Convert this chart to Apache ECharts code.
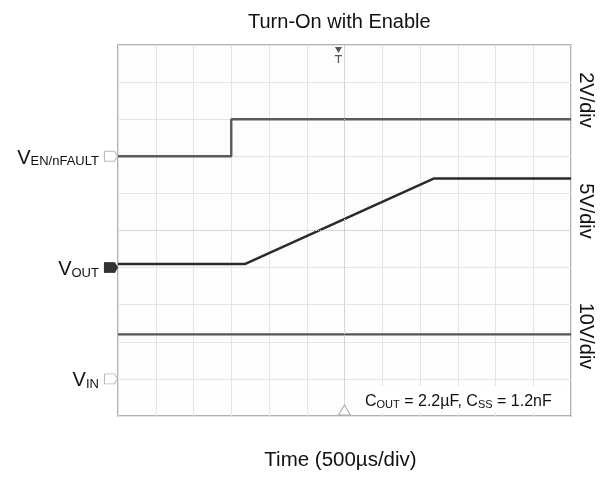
<!DOCTYPE html>
<html>
<head>
<meta charset="utf-8">
<script src="https://cdn.jsdelivr.net/npm/echarts@6/dist/echarts.min.js"></script>
<style>html,body{margin:0;padding:0;background:#fff}#c{width:605px;height:477px}</style>
</head>
<body>
<div id="c"></div>
<script>
// time in µs (500 µs/div), levels in screen divisions (0..10)
const enTime = [0, 1500, 1500, 6000];
const enLevel = [7.0, 7.0, 8.0, 8.0];
const voutTime = [0, 1686, 4180, 6000];
const voutLevel = [4.1, 4.1, 6.4, 6.4];
const vinTime = [0, 6000];
const vinLevel = [2.2, 2.2];
const refLevels = { en: 7.0, vout: 4.0, vin: 1.0 };
const scaleLabels = ['2V/div', '5V/div', '10V/div'];
const triggerTime = 2920;
const centerTime = 3000;

const zip = (xs, ys) => xs.map((x, i) => [x, ys[i]]);
const FONT = 'Liberation Sans, Arial, sans-serif';
const chanSym = 'path://M0,0 L10,0 L13,5 L10,10 L0,10 Z';
const rich = {
  v: { fontSize: 20, lineHeight: 24, verticalAlign: 'bottom', color: '#111', fontFamily: FONT },
  s: { fontSize: 13, lineHeight: 12, verticalAlign: 'bottom', color: '#111', fontFamily: FONT }
};
function chanMark(level, sub, dark) {
  return {
    coord: [0, level], symbol: chanSym, symbolSize: [13, 10], symbolOffset: [-7, 0],
    itemStyle: { color: dark ? '#333' : '#fff', borderColor: dark ? '#333' : '#bbb', borderWidth: 1 },
    label: { show: true, position: 'left', distance: 5, formatter: '{v|V}{s|' + sub + '}', rich: rich }
  };
}
const rotText = (txt, y) => ({
  type: 'text', x: 586, y: y, rotation: -Math.PI / 2,
  style: { text: txt, fill: '#111', font: '20px ' + FONT, align: 'center', verticalAlign: 'middle' }
});

const chart = echarts.init(document.getElementById('c'));
chart.setOption({
  animation: false,
  backgroundColor: '#fff',
  title: { text: 'Turn-On with Enable', left: 243, top: 7,
    textStyle: { fontSize: 20, fontWeight: 'normal', color: '#111', fontFamily: FONT } },
  grid: { left: 118, right: 34, top: 45, bottom: 61, show: true, backgroundColor: '#fdfdfd',
    borderColor: '#999', borderWidth: 1.5 },
  xAxis: {
    type: 'value', min: 0, max: 6000, interval: 500,
    name: 'Time (500µs/div)', nameLocation: 'middle', nameGap: 34,
    nameTextStyle: { fontSize: 20.5, color: '#111', fontFamily: FONT, padding: [0, 8, 0, 0] },
    axisLine: { show: false }, axisTick: { show: false }, axisLabel: { show: false },
    splitLine: { show: true, lineStyle: { color: '#e4e4e4', width: 1 } }
  },
  yAxis: {
    type: 'value', min: 0, max: 10, interval: 1,
    axisLine: { show: false }, axisTick: { show: false }, axisLabel: { show: false },
    splitLine: { show: true, lineStyle: { color: '#e4e4e4', width: 1 } }
  },
  series: [
    {
      type: 'line', data: zip(enTime, enLevel), symbol: 'none',
      lineStyle: { color: '#5a5a5a', width: 2.4 },
      markPoint: { silent: true, data: [chanMark(refLevels.en, 'EN/nFAULT', false)] },
      markLine: {
        silent: true, symbol: 'none', label: { show: false },
        lineStyle: { color: '#c8c8c8', type: 'dotted', width: 1 },
        data: [{ xAxis: centerTime }, { yAxis: 5 }]
      }
    },
    {
      type: 'line', data: zip(voutTime, voutLevel), symbol: 'none',
      lineStyle: { color: '#2a2a2a', width: 2.5 },
      markPoint: { silent: true, data: [chanMark(refLevels.vout, 'OUT', true)] }
    },
    {
      type: 'line', data: zip(vinTime, vinLevel), symbol: 'none',
      lineStyle: { color: '#555', width: 2.4 },
      markPoint: {
        silent: true,
        data: [
          chanMark(refLevels.vin, 'IN', false),
          { coord: [centerTime, 0], symbol: 'triangle', symbolSize: [12, 10], symbolOffset: [0, -6],
            itemStyle: { color: '#fff', borderColor: '#aaa', borderWidth: 1 }, label: { show: false } },
          { coord: [triggerTime, 10], symbol: 'path://M0,0 L7,0 L3.5,6 Z M0,8 L7,8 L7,9.2 L4.1,9.2 L4.1,16 L2.9,16 L2.9,9.2 L0,9.2 Z',
            symbolSize: [7, 16], symbolOffset: [0, 10], itemStyle: { color: '#555' }, label: { show: false } }
        ]
      }
    }
  ],
  graphic: [
    rotText(scaleLabels[0], 100),
    rotText(scaleLabels[1], 211),
    rotText(scaleLabels[2], 336),
    { type: 'rect', shape: { x: 364, y: 386, width: 205, height: 27 }, style: { fill: '#fff' }, z: 10 },
    { type: 'text', x: 365, y: 400, z: 11,
      style: {
        text: '{a|C}{b|OUT}{a| = 2.2µF, C}{b|SS}{a| = 1.2nF}',
        verticalAlign: 'middle',
        rich: {
          a: { fontSize: 16, lineHeight: 20, verticalAlign: 'bottom', fill: '#111', fontFamily: FONT },
          b: { fontSize: 11, lineHeight: 9, verticalAlign: 'bottom', fill: '#111', fontFamily: FONT }
        }
      } }
  ]
});
</script>
</body>
</html>
